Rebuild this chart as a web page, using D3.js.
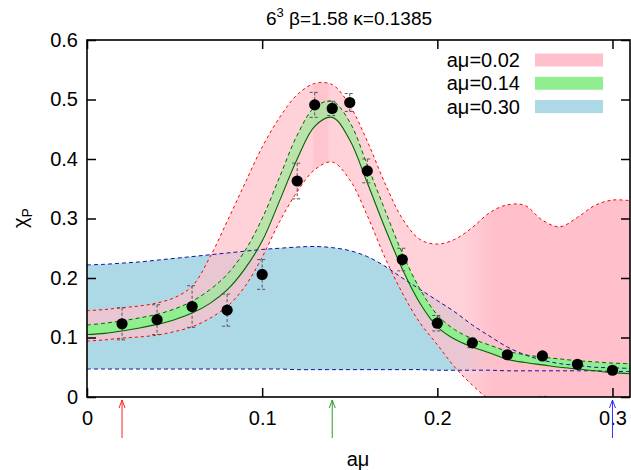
<!DOCTYPE html>
<html>
<head>
<meta charset="utf-8">
<script src="https://cdn.jsdelivr.net/npm/d3@7"></script>
<style>
  html, body { margin: 0; padding: 0; background: #fff; }
  svg { display: block; font-family: "Liberation Sans", Arial, Helvetica, sans-serif; }
</style>
</head>
<body>
<svg id="chart" width="631" height="470"></svg>
<script>
// ---------------- data ----------------
const gridX   = [0,0.01,0.02,0.03,0.04,0.05,0.06,0.07,0.08,0.09,0.10,0.11,0.12,0.13,0.14,0.15,0.16,0.17,0.18,0.19,0.20,0.21,0.22,0.23,0.24,0.25,0.26,0.27,0.28,0.29,0.30,0.31];
// band a mu = 0.02 (pink)
const pinkHi  = [0.145,0.147,0.150,0.153,0.158,0.167,0.186,0.234,0.295,0.358,0.420,0.470,0.508,0.527,0.525,0.490,0.430,0.360,0.300,0.265,0.257,0.265,0.285,0.310,0.323,0.322,0.297,0.286,0.302,0.322,0.331,0.330];
const pinkLo  = [0.094,0.096,0.099,0.101,0.104,0.110,0.118,0.132,0.152,0.185,0.235,0.295,0.345,0.382,0.395,0.365,0.305,0.235,0.175,0.125,0.088,0.050,0.020,-0.005,-0.018,-0.012,0.001,-0.006,-0.022,-0.040,-0.050,-0.055];
// band a mu = 0.14 (green)
const greenHi = [0.121,0.124,0.128,0.133,0.139,0.148,0.161,0.180,0.206,0.245,0.300,0.370,0.440,0.487,0.497,0.462,0.390,0.315,0.242,0.182,0.138,0.113,0.098,0.087,0.077,0.071,0.067,0.064,0.061,0.059,0.057,0.056];
const greenLo = [0.105,0.107,0.111,0.116,0.122,0.130,0.141,0.157,0.180,0.215,0.262,0.330,0.400,0.455,0.470,0.432,0.360,0.285,0.215,0.158,0.118,0.097,0.084,0.074,0.063,0.058,0.054,0.050,0.047,0.044,0.041,0.039];
// band a mu = 0.30 (blue)
const blueHi  = [0.222,0.223,0.225,0.227,0.230,0.233,0.236,0.239,0.242,0.245,0.248,0.250,0.252,0.253,0.251,0.246,0.236,0.220,0.200,0.181,0.162,0.143,0.121,0.102,0.084,0.071,0.062,0.056,0.053,0.050,0.049,0.048];
const blueLo  = [0.047,0.047,0.047,0.047,0.047,0.047,0.047,0.047,0.047,0.047,0.047,0.047,0.046,0.046,0.046,0.046,0.046,0.046,0.046,0.046,0.045,0.045,0.045,0.045,0.044,0.044,0.044,0.044,0.044,0.044,0.043,0.043];

// measured points
const muVals  = [0.02,0.04,0.06,0.08,0.10,0.12,0.13,0.14,0.15,0.16,0.18,0.20,0.22,0.24,0.26,0.28,0.30];
const chiVals = [0.123,0.130,0.152,0.146,0.206,0.363,0.491,0.485,0.495,0.380,0.231,0.124,0.091,0.071,0.069,0.055,0.045];
const chiErr  = [0.027,0.025,0.035,0.027,0.025,0.030,0.021,0.012,0.015,0.020,0.019,0.013,0.008,0.004,0.003,0.003,0.003];

// legend and markers
const legendLabels = ["aμ=0.02","aμ=0.14","aμ=0.30"];
const arrowMu      = [0.02, 0.14, 0.30];
const xTickVals    = [0, 0.1, 0.2, 0.3];
const xTickLabels  = ["0","0.1","0.2","0.3"];
const yTickVals    = [0, 0.1, 0.2, 0.3, 0.4, 0.5, 0.6];
const yTickLabels  = ["0","0.1","0.2","0.3","0.4","0.5","0.6"];

// ---------------- styles ----------------
const C = {
  pink: "#ffc0cb", green: "#90ee90", blue: "#add8e6",
  red: "#ff0000", dgreen: "#006400", navy: "#1010a0",
  arrows: ["#ff2020", "#2a9a2a", "#3030ff"]
};
const pinkStops  = [[0,0.72],[0.128,0.72],[0.130,0.92],[0.137,0.92],[0.139,0.72],[0.214,0.72],[0.232,1],[0.31,1]];
const greenStops = [[0,1],[0.062,1],[0.068,0.62],[0.172,0.62],[0.18,1],[0.31,1]];

// ---------------- layout ----------------
const W = 631, H = 470;
const L = 87, R = 630, T = 40, B = 397;
const x = d3.scaleLinear().domain([0, 0.31]).range([L, R]);
const y = d3.scaleLinear().domain([0, 0.6]).range([B, T]);

const svg = d3.select("#chart");
svg.append("rect").attr("width", W).attr("height", H).attr("fill", "#fff");
const defs = svg.append("defs");
defs.append("clipPath").attr("id", "plotclip")
  .append("rect").attr("x", L).attr("y", T).attr("width", R - L).attr("height", B - T);

function gradient(id, color, stops) {
  const g = defs.append("linearGradient").attr("id", id)
    .attr("gradientUnits", "userSpaceOnUse")
    .attr("x1", x(0)).attr("x2", x(0.31)).attr("y1", 0).attr("y2", 0);
  stops.forEach(s => g.append("stop")
    .attr("offset", (x(s[0]) - x(0)) / (x(0.31) - x(0)))
    .attr("stop-color", color).attr("stop-opacity", s[1]));
}
gradient("gpink", C.pink, pinkStops);
gradient("ggreen", C.green, greenStops);

const plot = svg.append("g").attr("clip-path", "url(#plotclip)");
const curve = d3.curveCatmullRom.alpha(0.5);

function band(lo, hi, fill) {
  const area = d3.area().x((d, i) => x(gridX[i])).y0((d, i) => y(lo[i])).y1((d, i) => y(hi[i])).curve(curve);
  plot.append("path").datum(gridX).attr("d", area).attr("fill", fill).attr("stroke", "none");
}
function edge(vals, color, dash, w) {
  const line = d3.line().x((d, i) => x(gridX[i])).y((d, i) => y(vals[i])).curve(curve);
  plot.append("path").datum(gridX).attr("d", line).attr("fill", "none")
    .attr("stroke", color).attr("stroke-width", w || 1)
    .attr("stroke-dasharray", dash || null);
}

band(blueLo, blueHi, C.blue);
band(pinkLo, pinkHi, "url(#gpink)");
band(greenLo, greenHi, "url(#ggreen)");

edge(blueHi, C.navy, "4,3");
edge(blueLo, C.navy, "4,3");
edge(pinkHi, C.red, "3,3");
edge(pinkLo, C.red, "3,3");
edge(greenHi, C.dgreen, "4,3");
edge(greenLo, C.dgreen, null, 1.1);

// error bars
const eb = plot.append("g").attr("stroke", "#555").attr("stroke-width", 1).attr("stroke-dasharray", "3,2");
muVals.forEach((m, i) => {
  const cx = x(m), top = y(chiVals[i] + chiErr[i]), bot = y(chiVals[i] - chiErr[i]);
  eb.append("line").attr("x1", cx).attr("x2", cx).attr("y1", top).attr("y2", bot);
  eb.append("line").attr("x1", cx - 5).attr("x2", cx + 5).attr("y1", top).attr("y2", top);
  eb.append("line").attr("x1", cx - 5).attr("x2", cx + 5).attr("y1", bot).attr("y2", bot);
});
plot.append("g").selectAll("circle").data(muVals).join("circle")
  .attr("cx", d => x(d)).attr("cy", (d, i) => y(chiVals[i])).attr("r", 5.6).attr("fill", "#000");

// ---------------- axes ----------------
const fs = 20;
const axB = svg.append("g").attr("transform", `translate(0,${B})`)
  .call(d3.axisBottom(x).tickValues(xTickVals).tickFormat((d, i) => xTickLabels[i]).tickSizeInner(-9).tickSizeOuter(0).tickPadding(14));
const axL = svg.append("g").attr("transform", `translate(${L},0)`)
  .call(d3.axisLeft(y).tickValues(yTickVals).tickFormat((d, i) => yTickLabels[i]).tickSizeInner(-9).tickSizeOuter(0).tickPadding(9));
const axT = svg.append("g").attr("transform", `translate(0,${T})`)
  .call(d3.axisTop(x).tickValues(xTickVals).tickFormat("").tickSizeInner(-9).tickSizeOuter(0));
const axR = svg.append("g").attr("transform", `translate(${R},0)`)
  .call(d3.axisRight(y).tickValues(yTickVals).tickFormat("").tickSizeInner(-9).tickSizeOuter(0));
[axB, axL, axT, axR].forEach(a => {
  a.select(".domain").remove();
  a.selectAll("line").attr("stroke", "#000").attr("stroke-width", 1.5);
  a.selectAll("text").attr("font-size", fs).attr("fill", "#000").attr("font-family", "Liberation Sans, Arial, sans-serif");
});
svg.append("rect").attr("x", L).attr("y", T).attr("width", R - L).attr("height", B - T)
  .attr("fill", "none").attr("stroke", "#000").attr("stroke-width", 1.6);

// arrows under the axis
arrowMu.forEach((m, i) => {
  const g = svg.append("g").attr("stroke", C.arrows[i]).attr("stroke-width", 1).attr("fill", "none");
  const ax = x(m);
  g.append("line").attr("x1", ax).attr("x2", ax).attr("y1", 438).attr("y2", B + 3);
  g.append("path").attr("d", `M${ax - 3},${B + 11}L${ax},${B + 3}L${ax + 3},${B + 11}`);
});

// title
const title = svg.append("text").attr("x", 349).attr("y", 25).attr("text-anchor", "middle")
  .attr("font-size", 19).attr("fill", "#000");
title.append("tspan").text("6");
title.append("tspan").attr("font-size", 13).attr("dy", -8).text("3");
title.append("tspan").attr("dy", 8).text(" β=1.58 κ=0.1385");

// axis labels
svg.append("text").attr("x", 358).attr("y", 466).attr("text-anchor", "middle")
  .attr("font-size", fs).attr("fill", "#000").text("aμ");
const yl = svg.append("text").attr("transform", "translate(27,218) rotate(-90)")
  .attr("text-anchor", "middle").attr("font-size", fs).attr("fill", "#000");
yl.append("tspan").text("χ");
yl.append("tspan").attr("font-size", 14).attr("dy", 5).text("P");

// legend
const legColors = [C.pink, C.green, C.blue];
legendLabels.forEach((lab, i) => {
  const cy = 60 + i * 23.3;
  svg.append("text").attr("x", 520).attr("y", cy + 7).attr("text-anchor", "end")
    .attr("font-size", fs).attr("fill", "#000").text(lab);
  svg.append("rect").attr("x", 535).attr("y", cy - 6.5).attr("width", 68).attr("height", 13)
    .attr("fill", legColors[i]);
});
</script>
</body>
</html>
